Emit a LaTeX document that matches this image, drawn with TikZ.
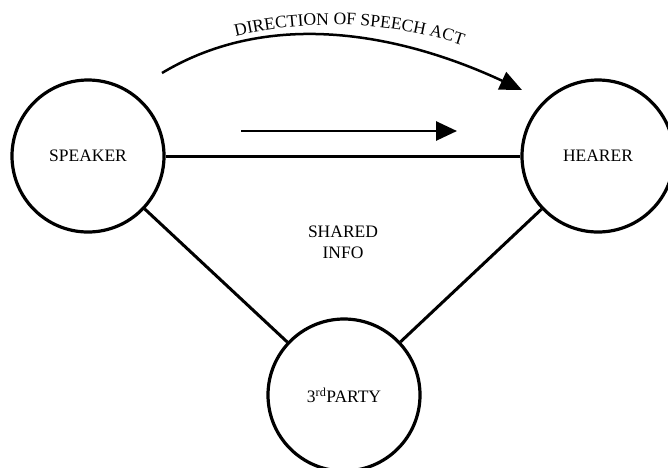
\documentclass[tikz,border=0pt]{standalone}
\usepackage{fontspec}
\setmainfont{Liberation Serif}
\usetikzlibrary{arrows.meta,decorations.text}
\begin{document}
\begin{tikzpicture}[x=1pt,y=1pt,
  party/.style={circle,draw,line width=3.2pt,minimum size=152pt,inner sep=0pt,font=\fontsize{17.5}{21}\selectfont},
  link/.style={line width=3pt},
  lbl/.style={font=\fontsize{17.5}{21}\selectfont,align=center},
  bigarrow/.style={line width=2.7pt,-{Triangle[length=21pt,width=19pt]}}]
\useasboundingbox (0,0) rectangle (668,-467);
\node[party] (speaker) at (88,-156) {SPEAKER};
\node[party] (hearer) at (598,-156) {HEARER};
\node[party] (third) at (344,-395) {3\textsuperscript{rd}PARTY};
\draw[link] (speaker) -- (hearer);
\draw[link] (speaker) -- (third);
\draw[link] (hearer) -- (third);
\node[lbl] (shared) at (343,-242) {SHARED\\INFO};
\coordinate (sa) at (241,-131);
\coordinate (sb) at (457,-131);
\draw[bigarrow] (sa) -- (sb);
\coordinate (ca) at (162,-73);
\coordinate (cb) at (522,-90);
\draw[line width=2.5pt,-{Triangle[length=22pt,width=19pt]}] (ca) .. controls (272.6,-6.6) and (405,-35.5) .. (cb);
\path[decorate,decoration={text along path,text align=center,
  text={|\fontsize{17.5}{21}\selectfont|DIRECTION OF SPEECH ACT}}]
  (228,-38) .. controls (300,-19) and (390,-19) .. (470,-48);
\end{tikzpicture}
\end{document}
